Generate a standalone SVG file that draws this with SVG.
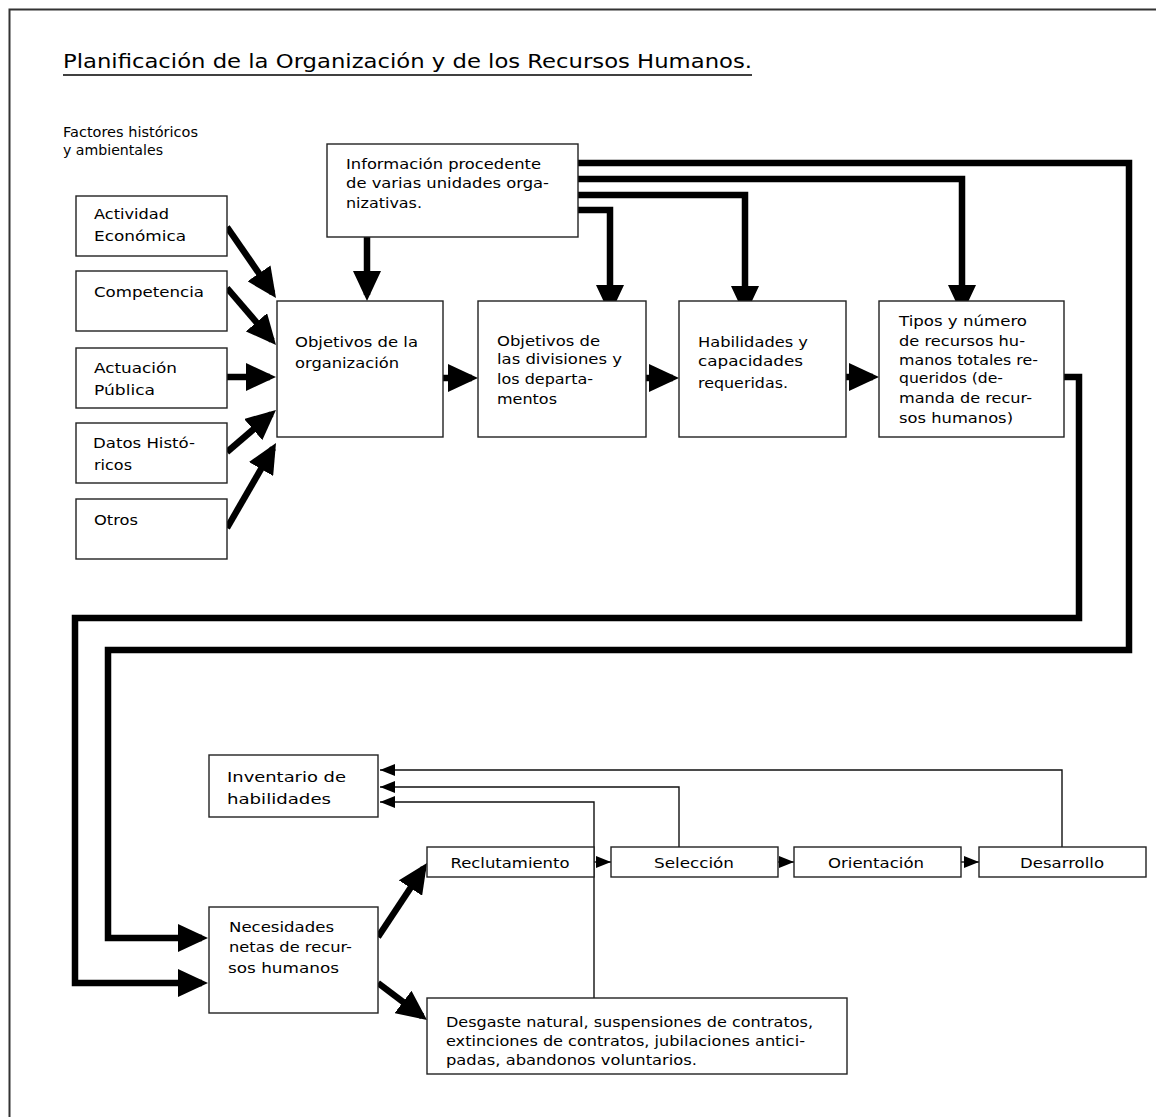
<svg xmlns="http://www.w3.org/2000/svg" width="1156" height="1117" viewBox="0 0 1156 1117">
<style>
.t{font-family:"DejaVu Sans","Liberation Sans",sans-serif;font-size:14px;fill:#000}
.title{font-family:"DejaVu Sans","Liberation Sans",sans-serif;font-size:20px;fill:#000}
.box{fill:#fff;stroke:#222;stroke-width:1.4}
.thick{fill:none;stroke:#000;stroke-width:6.5;stroke-linejoin:miter;stroke-linecap:butt}
.thin{fill:none;stroke:#111;stroke-width:1.4;stroke-linejoin:miter}
.m{text-anchor:middle}
</style>
<defs>
<marker id="ah" markerUnits="userSpaceOnUse" markerWidth="30" markerHeight="28" refX="24" refY="14" orient="auto" viewBox="0 0 30 28"><path d="M0,0 L30,14 L0,28 z" fill="#000"/></marker>
<marker id="sa" markerUnits="userSpaceOnUse" markerWidth="15" markerHeight="12" refX="15" refY="6" orient="auto" viewBox="0 0 15 12"><path d="M0,0 L15,6 L0,12 z" fill="#000"/></marker>
</defs>
<rect x="0" y="0" width="1156" height="1117" fill="#fff"/>
<rect x="9.5" y="9.5" width="1200" height="1200" fill="none" stroke="#333" stroke-width="2"/>

<g id="title">
<text class="title" x="63" y="68" textLength="689" lengthAdjust="spacingAndGlyphs">Planificación de la Organización y de los Recursos Humanos.</text>
<line x1="63" y1="75" x2="752" y2="75" stroke="#000" stroke-width="1.6"/>
</g>
<g id="factores-label">
<text class="t" x="63" y="137" textLength="135" lengthAdjust="spacingAndGlyphs">Factores históricos</text>
<text class="t" x="63" y="155" textLength="100" lengthAdjust="spacingAndGlyphs">y ambientales</text>
</g>

<g id="connectors">
<!-- left factors to objetivos -->
<line class="thick" x1="227" y1="227" x2="272.6" y2="293.1" marker-end="url(#ah)"/>
<line class="thick" x1="227" y1="288" x2="272.1" y2="340.5" marker-end="url(#ah)"/>
<line class="thick" x1="227" y1="377" x2="270" y2="377" marker-end="url(#ah)"/>
<line class="thick" x1="227" y1="452" x2="271.4" y2="413.9" marker-end="url(#ah)"/>
<line class="thick" x1="227" y1="528" x2="273" y2="448.2" marker-end="url(#ah)"/>
<!-- info down to objetivos -->
<line class="thick" x1="367" y1="237" x2="367" y2="295" marker-end="url(#ah)"/>
<!-- info to others -->
<path class="thick" d="M578,210 H610 V309" marker-end="url(#ah)"/>
<path class="thick" d="M578,195 H745 V310" marker-end="url(#ah)"/>
<path class="thick" d="M578,179 H962 V309" marker-end="url(#ah)"/>
<path class="thick" d="M578,163 H1129 V650 H108 V938 H202" marker-end="url(#ah)"/>
<path class="thick" d="M1064,377 H1079 V618 H75 V983 H202" marker-end="url(#ah)"/>
<!-- horizontal chain -->
<line class="thick" x1="443" y1="378" x2="472" y2="378" marker-end="url(#ah)"/>
<line class="thick" x1="646" y1="378" x2="673" y2="378" marker-end="url(#ah)"/>
<line class="thick" x1="846" y1="377" x2="873" y2="377" marker-end="url(#ah)"/>
<!-- necesidades outputs -->
<line class="thick" x1="378" y1="937" x2="423.7" y2="868" marker-end="url(#ah)"/>
<line class="thick" x1="378" y1="983" x2="422.2" y2="1016.4" marker-end="url(#ah)"/>
<!-- thin feedback to inventario -->
<path class="thin" d="M1062,847 V770 H380" marker-end="url(#sa)"/>
<path class="thin" d="M679,847 V787 H380" marker-end="url(#sa)"/>
<path class="thin" d="M594,998 V802 H380" marker-end="url(#sa)"/>
<!-- bottom row chain -->
<line class="thin" x1="594" y1="862" x2="611" y2="862" marker-end="url(#sa)"/>
<line class="thin" x1="778" y1="862" x2="794" y2="862" marker-end="url(#sa)"/>
<line class="thin" x1="961" y1="862" x2="979" y2="862" marker-end="url(#sa)"/>
</g>

<g id="info">
<rect class="box" x="327" y="144" width="251" height="93"/>
<text class="t" x="346" y="169" textLength="195" lengthAdjust="spacingAndGlyphs">Información procedente</text>
<text class="t" x="346" y="188" textLength="203" lengthAdjust="spacingAndGlyphs">de varias unidades orga-</text>
<text class="t" x="346" y="208" textLength="76" lengthAdjust="spacingAndGlyphs">nizativas.</text>
</g>
<g id="actividad">
<rect class="box" x="76" y="196" width="151" height="60"/>
<text class="t" x="94" y="219" textLength="75" lengthAdjust="spacingAndGlyphs">Actividad</text>
<text class="t" x="94" y="241" textLength="92" lengthAdjust="spacingAndGlyphs">Económica</text>
</g>
<g id="competencia">
<rect class="box" x="76" y="271" width="151" height="60"/>
<text class="t" x="94" y="297" textLength="110" lengthAdjust="spacingAndGlyphs">Competencia</text>
</g>
<g id="actuacion">
<rect class="box" x="76" y="348" width="151" height="60"/>
<text class="t" x="94" y="373" textLength="83" lengthAdjust="spacingAndGlyphs">Actuación</text>
<text class="t" x="94" y="395" textLength="61" lengthAdjust="spacingAndGlyphs">Pública</text>
</g>
<g id="datos">
<rect class="box" x="76" y="423" width="151" height="60"/>
<text class="t" x="93" y="448" textLength="102" lengthAdjust="spacingAndGlyphs">Datos Histó-</text>
<text class="t" x="94" y="470" textLength="38" lengthAdjust="spacingAndGlyphs">ricos</text>
</g>
<g id="otros">
<rect class="box" x="76" y="499" width="151" height="60"/>
<text class="t" x="94" y="525" textLength="44" lengthAdjust="spacingAndGlyphs">Otros</text>
</g>
<g id="obj-org">
<rect class="box" x="277" y="301" width="166" height="136"/>
<text class="t" x="295" y="347" textLength="123" lengthAdjust="spacingAndGlyphs">Objetivos de la</text>
<text class="t" x="295" y="368" textLength="104" lengthAdjust="spacingAndGlyphs">organización</text>
</g>
<g id="obj-div">
<rect class="box" x="478" y="301" width="168" height="136"/>
<text class="t" x="497" y="346" textLength="103" lengthAdjust="spacingAndGlyphs">Objetivos de</text>
<text class="t" x="497" y="364" textLength="125" lengthAdjust="spacingAndGlyphs">las divisiones y</text>
<text class="t" x="497" y="384" textLength="96" lengthAdjust="spacingAndGlyphs">los departa-</text>
<text class="t" x="497" y="404" textLength="60" lengthAdjust="spacingAndGlyphs">mentos</text>
</g>
<g id="habilidades">
<rect class="box" x="679" y="301" width="167" height="136"/>
<text class="t" x="698" y="347" textLength="110" lengthAdjust="spacingAndGlyphs">Habilidades y</text>
<text class="t" x="698" y="366" textLength="105" lengthAdjust="spacingAndGlyphs">capacidades</text>
<text class="t" x="698" y="388" textLength="90" lengthAdjust="spacingAndGlyphs">requeridas.</text>
</g>
<g id="tipos">
<rect class="box" x="879" y="301" width="185" height="136"/>
<text class="t" x="899" y="326" textLength="128" lengthAdjust="spacingAndGlyphs">Tipos y número</text>
<text class="t" x="899" y="346" textLength="126" lengthAdjust="spacingAndGlyphs">de recursos hu-</text>
<text class="t" x="899" y="365" textLength="139" lengthAdjust="spacingAndGlyphs">manos totales re-</text>
<text class="t" x="899" y="383" textLength="104" lengthAdjust="spacingAndGlyphs">queridos (de-</text>
<text class="t" x="899" y="403" textLength="133" lengthAdjust="spacingAndGlyphs">manda de recur-</text>
<text class="t" x="899" y="423" textLength="114" lengthAdjust="spacingAndGlyphs">sos humanos)</text>
</g>
<g id="inventario">
<rect class="box" x="209" y="755" width="169" height="62"/>
<text class="t" x="227" y="782" textLength="119" lengthAdjust="spacingAndGlyphs">Inventario de</text>
<text class="t" x="227" y="804" textLength="104" lengthAdjust="spacingAndGlyphs">habilidades</text>
</g>
<g id="necesidades">
<rect class="box" x="209" y="907" width="169" height="106"/>
<text class="t" x="229" y="932" textLength="105" lengthAdjust="spacingAndGlyphs">Necesidades</text>
<text class="t" x="229" y="952" textLength="123" lengthAdjust="spacingAndGlyphs">netas de recur-</text>
<text class="t" x="228" y="973" textLength="111" lengthAdjust="spacingAndGlyphs">sos humanos</text>
</g>
<g id="reclutamiento">
<rect class="box" x="427" y="847" width="167" height="30"/>
<text class="t m" x="510" y="868" textLength="119" lengthAdjust="spacingAndGlyphs">Reclutamiento</text>
</g>
<g id="seleccion">
<rect class="box" x="611" y="847" width="167" height="30"/>
<text class="t m" x="694" y="868" textLength="80" lengthAdjust="spacingAndGlyphs">Selección</text>
</g>
<g id="orientacion">
<rect class="box" x="794" y="847" width="167" height="30"/>
<text class="t m" x="876" y="868" textLength="96" lengthAdjust="spacingAndGlyphs">Orientación</text>
</g>
<g id="desarrollo">
<rect class="box" x="979" y="847" width="167" height="30"/>
<text class="t m" x="1062" y="868" textLength="84" lengthAdjust="spacingAndGlyphs">Desarrollo</text>
</g>
<g id="desgaste">
<rect class="box" x="427" y="998" width="420" height="76"/>
<text class="t" x="446" y="1027" textLength="367" lengthAdjust="spacingAndGlyphs">Desgaste natural, suspensiones de contratos,</text>
<text class="t" x="446" y="1046" textLength="359" lengthAdjust="spacingAndGlyphs">extinciones de contratos, jubilaciones antici-</text>
<text class="t" x="446" y="1065" textLength="251" lengthAdjust="spacingAndGlyphs">padas, abandonos voluntarios.</text>
</g>
</svg>
